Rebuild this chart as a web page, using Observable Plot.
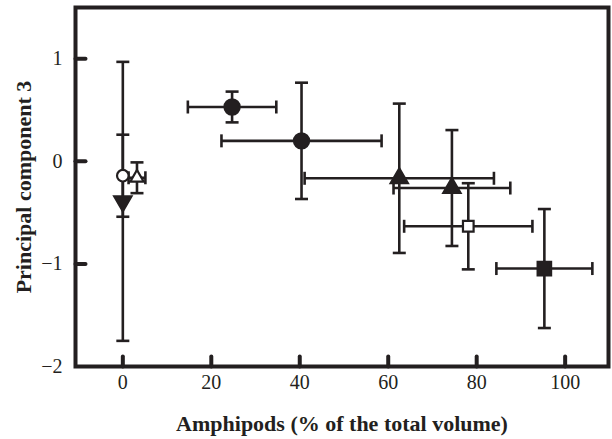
<!DOCTYPE html>
<html>
<head>
<meta charset="utf-8">
<script src="https://cdn.jsdelivr.net/npm/d3@7"></script>
<script src="https://cdn.jsdelivr.net/npm/@observablehq/plot@0.6"></script>
<style>
  html, body { margin: 0; padding: 0; background: #fff; overflow: hidden; }
</style>
</head>
<body>
<div id="chart"></div>
<script>
// ---- data ----
const xMeans  = [0,     0,     3.2,   24.7,  40.4,  62.5,   74.4,  78.1,   95.3];
const yMeans  = [-0.14, -0.39, -0.16, 0.53,  0.20,  -0.165, -0.26, -0.633, -1.045];
const xErrors = [0,     0,     1.9,   10.0,  18.1,  21.4,   13.2,  14.5,   10.85];
const yErrors = [0.40,  1.36,  0.15,  0.15,  0.567, 0.728,  0.565, 0.42,   0.58];
const markerShape = ["circle", "triangle-down", "triangle", "circle", "circle", "triangle", "triangle", "square", "square"];
const markerFilled = [false, true, false, true, true, true, true, false, true];

const xTicks = [0, 20, 40, 60, 80, 100];
const yTickLabels = [1, 0, -1, -2];
const yTickMarks = [1, 0, -1];
const xLabel = "Amphipods (% of the total volume)";
const yLabel = "Principal component 3";

const ink = "#231f20";

const rows = xMeans.map((x, i) => ({
  x, y: yMeans[i], xe: xErrors[i], ye: yErrors[i],
  shape: markerShape[i], filled: markerFilled[i]
}));
const hRows = rows.filter(d => d.xe > 0);

// custom symbols
const capSymbol = { draw(ctx, size) { const w = Math.sqrt(size / Math.PI); ctx.moveTo(-w, 0); ctx.lineTo(w, 0); } };
const lineShape = { draw(ctx, l) { ctx.moveTo(0, 0); ctx.lineTo(0, -l); } };

function sym(d) {
  if (d.shape === "circle") return "circle";
  if (d.shape === "square") return "square";
  return "triangle";
}
function rad(d) {
  if (d.shape === "circle") return d.filled ? 7.6 : 5.8;
  if (d.shape === "square") return d.filled ? 7.6 : 6.0;
  return d.filled ? 6.4 : 5.0;
}

const chart = Plot.plot({
  width: 612,
  height: 439,
  marginLeft: 75,
  marginRight: 4,
  marginTop: 7,
  marginBottom: 73,
  x: { domain: [-10.7, 109.8] },
  y: { domain: [-2, 1.5] },
  r: { type: "identity" },
  style: { fontFamily: "Liberation Serif, Times New Roman, serif", fontSize: "20px", color: ink, background: "#fff" },
  marks: [
    // vertical error bars
    Plot.ruleX(rows, { x: "x", y1: d => d.y - d.ye, y2: d => d.y + d.ye, stroke: ink, strokeWidth: 2.6 }),
    Plot.dot(rows, { x: "x", y: d => d.y - d.ye, symbol: capSymbol, r: 6.5, stroke: ink, strokeWidth: 2.6, fill: "none" }),
    Plot.dot(rows, { x: "x", y: d => d.y + d.ye, symbol: capSymbol, r: 6.5, stroke: ink, strokeWidth: 2.6, fill: "none" }),
    // horizontal error bars
    Plot.ruleY(hRows, { y: "y", x1: d => d.x - d.xe, x2: d => d.x + d.xe, stroke: ink, strokeWidth: 2.6 }),
    Plot.dot(hRows, { x: d => d.x - d.xe, y: "y", symbol: capSymbol, r: 6.5, rotate: 90, stroke: ink, strokeWidth: 2.6, fill: "none" }),
    Plot.dot(hRows, { x: d => d.x + d.xe, y: "y", symbol: capSymbol, r: 6.5, rotate: 90, stroke: ink, strokeWidth: 2.6, fill: "none" }),
    // markers
    Plot.dot(rows, {
      x: "x", y: "y",
      symbol: sym, r: rad,
      rotate: d => d.shape === "triangle-down" ? 180 : 0,
      fill: d => d.filled ? ink : "#fff",
      stroke: ink, strokeWidth: 2.2
    }),
    // frame
    Plot.frame({ stroke: ink, strokeWidth: 4 }),
    // inward tick marks
    Plot.vector(xTicks, { x: d => d, frameAnchor: "bottom", anchor: "start", length: 10, rotate: 0, shape: lineShape, stroke: ink, strokeWidth: 4, strokeLinecap: "round" }),
    Plot.vector(yTickMarks, { y: d => d, frameAnchor: "left", anchor: "start", length: 10, rotate: 90, shape: lineShape, stroke: ink, strokeWidth: 4, strokeLinecap: "round" }),
    // tick labels
    Plot.axisX(xTicks, { tickSize: 0, tickPadding: 8, label: null, fontSize: 20, tickFormat: d3.format("d") }),
    Plot.axisY(yTickLabels, { tickSize: 0, tickPadding: 13, label: null, fontSize: 20, tickFormat: d3.format("d") }),
    // axis titles
    Plot.text([xLabel], { text: d => d, frameAnchor: "bottom", dy: 57, textAnchor: "middle", lineAnchor: "middle", fontWeight: "bold", fontSize: 22, fill: ink }),
    Plot.text([yLabel], { text: d => d, frameAnchor: "left", dx: -52, textAnchor: "middle", lineAnchor: "middle", rotate: -90, fontWeight: "bold", fontSize: 22, fill: ink })
  ]
});
document.getElementById("chart").appendChild(chart);
</script>
</body>
</html>
